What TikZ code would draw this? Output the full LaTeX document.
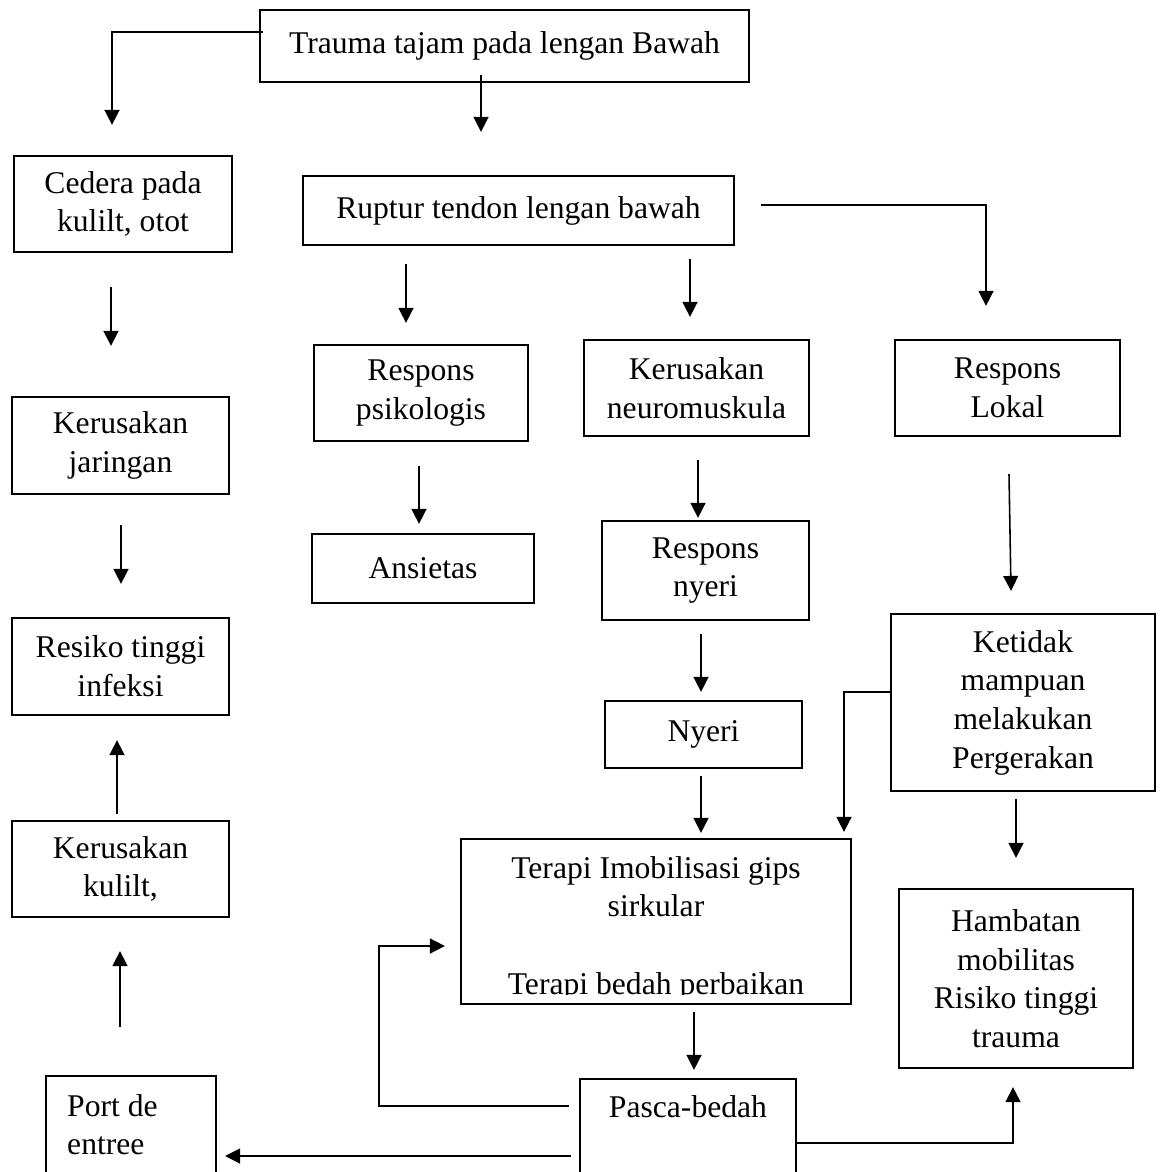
\documentclass[tikz,border=0pt]{standalone}
\usepackage{fontspec}
\setmainfont{Liberation Serif}
\usetikzlibrary{arrows.meta,calc}

\begin{document}
\begin{tikzpicture}[x=0.02cm, y=-0.02cm,
	txt/.style={font=\fontsize{18pt}{22pt}\selectfont},
	box/.style={txt, draw, line width=1.3pt, align=center},
	arr/.style={line width=0.9pt, -{Triangle[width=8.5pt,length=8.5pt]}}]
	\clip (0,0) rectangle (1164,1172);

	\node [box, minimum width=9.78cm, minimum height=1.44cm] (trauma) at (504.5,46) {Trauma tajam pada lengan Bawah};
	\node [box, minimum width=8.62cm, minimum height=1.38cm] (ruptur) at (518.5,210.5) {Ruptur tendon lengan bawah};
	\node [box, minimum width=4.36cm, minimum height=1.92cm] (cedera) at (123,204) {Cedera pada\\ kulilt, otot};
	\node [box, minimum width=4.34cm, minimum height=1.94cm] (jaringan) at (120.5,445.5) {Kerusakan\\ jaringan};
	\node [box, minimum width=4.34cm, minimum height=1.94cm] (infeksi) at (120.5,666.5) {Resiko tinggi\\ infeksi};
	\node [box, minimum width=4.34cm, minimum height=1.92cm] (kulit) at (120.5,869) {Kerusakan\\ kulilt,};
	\node [box, minimum width=3.4cm, minimum height=2.48cm,
		label={[txt, anchor=north west, inner sep=0, align=left, xshift=0.44cm, yshift=-0.38cm]north west:Port de\\ entree}] (port) at (131,1138) {};

	\node [box, minimum width=4.28cm, minimum height=1.92cm] (psiko) at (421,393) {Respons\\ psikologis};
	\node [box, minimum width=4.44cm, minimum height=1.38cm] (ansietas) at (423,568.5) {Ansietas};
	\node [box, minimum width=4.5cm, minimum height=1.92cm] (neuro) at (696.5,388) {Kerusakan\\ neuromuskula};
	\node [box, minimum width=4.14cm, minimum height=1.98cm] (rnyeri) at (705.5,570.5) {Respons\\ nyeri};
	\node [box, minimum width=3.94cm, minimum height=1.34cm] (nyeri) at (703.5,734.5) {Nyeri};
	\node [box, minimum width=7.8cm, minimum height=3.3cm] (terapi) at (656,921.5) {};
	\begin{scope}
		\clip (terapi.north west) rectangle ($(terapi.south east)+(0,-11)$);
		\node [txt, anchor=north, inner sep=0, align=center] (terapitxt) at ($(terapi.north)+(0,18)$) {Terapi Imobilisasi gips\\ sirkular\\[22pt] Terapi bedah perbaikan};
	\end{scope}
	\node [box, minimum width=4.32cm, minimum height=2.42cm,
		label={[txt, anchor=north, inner sep=0, yshift=-0.34cm]north:Pasca-bedah}] (pasca) at (688,1139.5) {};

	\node [box, minimum width=4.5cm, minimum height=1.92cm] (lokal) at (1007.5,388) {Respons\\ Lokal};
	\node [box, minimum width=5.28cm, minimum height=3.54cm] (ketidak) at (1023,702.5) {Ketidak\\ mampuan\\ melakukan\\ Pergerakan};
	\node [box, minimum width=4.68cm, minimum height=3.58cm] (hambatan) at (1016,978.5) {Hambatan\\ mobilitas\\ Risiko tinggi\\ trauma};

	\draw [arr] ($(trauma.west)+(4,-14)$) -| ($(cedera.north)+(-11,-30)$);
	\draw [arr] ($(trauma.south)+(-23.5,-8)$) -- ($(ruptur.north)+(-37.5,-43)$);
	\draw [arr] ($(ruptur.east)+(26,-5.5)$) -| ($(lokal.north)+(-21.5,-33)$);
	\draw [arr] ($(ruptur.south)+(-112.5,18)$) -- ($(psiko.north)+(-15,-21)$);
	\draw [arr] ($(ruptur.south)+(171.5,13)$) -- ($(neuro.north)+(-6.5,-22)$);
	\draw [arr] ($(cedera.south)+(-12,34)$) -- ($(jaringan.north)+(-9.5,-50)$);
	\draw [arr] ($(jaringan.south)+(0.5,30)$) -- ($(infeksi.north)+(0.5,-33)$);
	\draw [arr] ($(psiko.south)+(-2,24)$) -- ($(ansietas.north)+(-4,-9)$);
	\draw [arr] ($(neuro.south)+(1.5,23)$) -- ($(rnyeri.north)+(-7.5,-2)$);
	\draw [arr] ($(lokal.south)+(1.5,37)$) -- ($(ketidak.north)+(-12,-22)$);
	\draw [arr] ($(rnyeri.south)+(-4.5,13)$) -- ($(nyeri.north)+(-2.5,-8)$);
	\draw [arr] ($(nyeri.south)+(-2.5,7)$) -- ($(terapi.north)+(45,-5)$);
	\draw [arr] ($(ketidak.west)+(0,-10.5)$) -| ($(terapi.north)+(188,-6)$);
	\draw [arr] ($(ketidak.south)+(-7,7)$) -- ($(hambatan.north)+(0,-30)$);
	\draw [arr] ($(kulit.north)+(-3.5,-6)$) -- ($(infeksi.south)+(-3.5,24)$);
	\draw [arr] ($(port.north)+(-11,-48)$) -- ($(kulit.south)+(-0.5,33)$);
	\draw [arr] ($(terapi.south)+(38,7)$) -- ($(pasca.north)+(6,-8)$);
	\draw [arr] ($(pasca.west)+(-10,-33.5)$) -- ++(-190,0) |- ($(terapi.west)+(-15,24.5)$);
	\draw [arr] ($(pasca.west)+(-8,16.5)$) -- ($(port.east)+(8,18)$);
	\draw [arr] ($(pasca.east)+(0,3.5)$) -| ($(hambatan.south)+(-3,18)$);
\end{tikzpicture}
\end{document}
